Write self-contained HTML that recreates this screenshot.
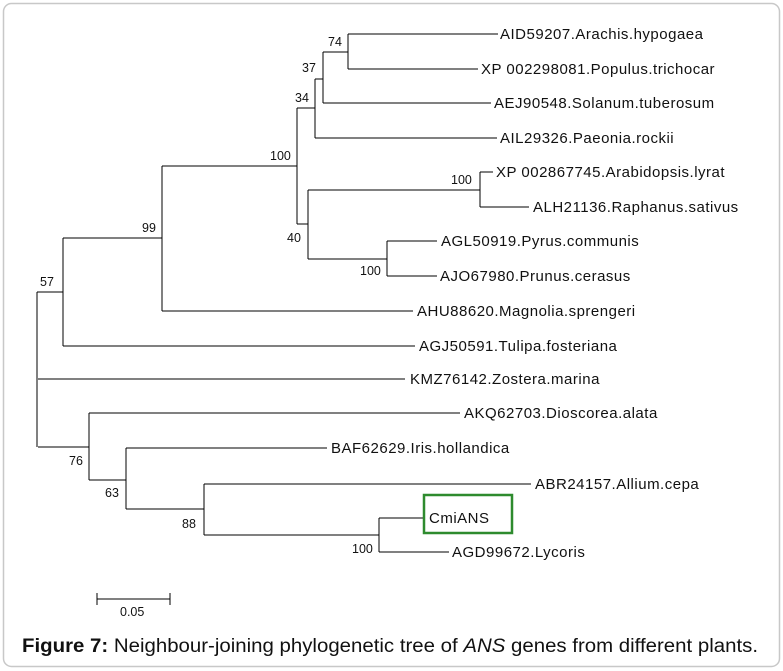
<!DOCTYPE html>
<html><head><style>
body{margin:0;background:#fff;}
svg{display:block;}
text{font-family:"Liberation Sans",Arial,sans-serif;font-size:15px;letter-spacing:0.5px;fill:#111;}
text.n{font-size:12.5px;letter-spacing:0;}
</style></head><body>
<svg width="783" height="671" viewBox="0 0 783 671" xmlns="http://www.w3.org/2000/svg">
<rect x="3.5" y="3.5" width="776" height="663" rx="8" fill="#fff" stroke="#c8c8c8" stroke-width="1.5"/>
<g stroke="#000" stroke-width="1" fill="none" shape-rendering="crispEdges">
<path d="M37 292V447M37 292H63M63 238V346M63 346H415M63 238H162M162 166V311M162 311H413M162 166H297M297 108V224M297 108H315M315 79V138M315 138H497M315 79H323M323 52V103M323 103H491M323 52H348M348 34V69M348 34H498M348 69H478M297 224H308M308 190V259M308 190H480M480 172V207M480 172H493M480 207H529M308 259H387M387 241V276M387 241H437M387 276H437"/>
<path d="M38 379H405M38 447H89M89 413V480M89 413H460M89 480H126M126 448V509M126 448H327M126 509H204M204 484V535M204 484H531M204 535H379M379 518V552M379 518H423M379 552H449"/>
<path d="M97 599H170M97 593V605M170 593V605"/>
</g>
<rect x="424" y="495" width="88" height="38" fill="none" stroke="#2e8b2e" stroke-width="2.5"/>
<g>
<text x="500" y="39">AID59207.Arachis.hypogaea</text>
<text x="481" y="74">XP 002298081.Populus.trichocar</text>
<text x="494" y="108">AEJ90548.Solanum.tuberosum</text>
<text x="500" y="143">AIL29326.Paeonia.rockii</text>
<text x="496" y="177">XP 002867745.Arabidopsis.lyrat</text>
<text x="533" y="212">ALH21136.Raphanus.sativus</text>
<text x="441" y="246">AGL50919.Pyrus.communis</text>
<text x="440" y="281">AJO67980.Prunus.cerasus</text>
<text x="417" y="316">AHU88620.Magnolia.sprengeri</text>
<text x="419" y="351">AGJ50591.Tulipa.fosteriana</text>
<text x="410" y="384">KMZ76142.Zostera.marina</text>
<text x="464" y="418">AKQ62703.Dioscorea.alata</text>
<text x="331" y="453">BAF62629.Iris.hollandica</text>
<text x="535" y="489">ABR24157.Allium.cepa</text>
<text x="429" y="523">CmiANS</text>
<text x="452" y="557">AGD99672.Lycoris</text>
</g>
<text class="n" x="328" y="46">74</text>
<text class="n" x="302" y="72">37</text>
<text class="n" x="295" y="102">34</text>
<text class="n" x="270" y="160">100</text>
<text class="n" x="142" y="232">99</text>
<text class="n" x="287" y="242">40</text>
<text class="n" x="360" y="275">100</text>
<text class="n" x="451" y="184">100</text>
<text class="n" x="40" y="286">57</text>
<text class="n" x="69" y="465">76</text>
<text class="n" x="105" y="497">63</text>
<text class="n" x="182" y="528">88</text>
<text class="n" x="352" y="553">100</text>
<text class="n" x="120" y="616">0.05</text>
<text x="22" y="652" textLength="736" lengthAdjust="spacingAndGlyphs" style="font-size:19px;letter-spacing:0;"><tspan font-weight="bold">Figure 7:</tspan> Neighbour-joining phylogenetic tree of <tspan font-style="italic">ANS</tspan> genes from different plants.</text>
</svg>
</body></html>
